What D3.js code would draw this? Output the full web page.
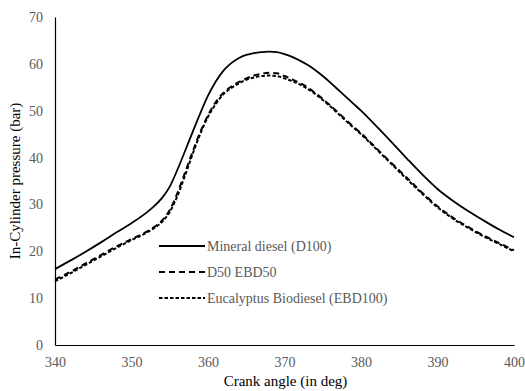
<!DOCTYPE html>
<html>
<head>
<meta charset="utf-8">
<script src="https://cdn.jsdelivr.net/npm/d3@7"></script>
</head>
<body style="margin:0">
<svg id="plot" width="525" height="391" style="font-family: 'Liberation Serif', serif;"></svg>
<script>
// Crank angle (deg) sample points
const angles = [340, 342, 344, 346, 348, 350, 352, 353, 354, 355, 356, 357, 358, 359,
  360, 361, 362, 363, 364, 365, 366, 367, 368, 369, 370, 371, 372, 373, 374, 375,
  376, 377, 378, 379, 380, 382, 384, 386, 388, 390, 392, 394, 396, 398, 400];

// In-cylinder pressure (bar)
const d100 = [16.2, 18.0, 19.9, 21.9, 24.0, 26.0, 28.3, 29.7, 31.4, 33.8, 37.4, 41.4, 45.5, 49.5,
  53.2, 56.2, 58.5, 60.1, 61.2, 61.9, 62.3, 62.5, 62.6, 62.5, 62.1, 61.5, 60.7, 59.8, 58.7, 57.4,
  56.0, 54.5, 53.0, 51.5, 50.0, 46.7, 43.3, 39.8, 36.4, 33.3, 30.8, 28.6, 26.6, 24.7, 23.0];

const d50ebd50 = [14.0, 15.6, 17.4, 19.2, 21.0, 22.6, 24.2, 25.2, 26.6, 28.8, 32.4, 36.8, 41.3, 45.5,
  49.0, 51.8, 53.8, 55.1, 56.1, 56.9, 57.5, 57.9, 58.1, 58.0, 57.4, 56.7, 55.9, 55.0, 53.8, 52.5,
  51.1, 49.6, 48.1, 46.6, 45.2, 42.0, 38.8, 35.7, 32.5, 29.6, 27.2, 25.2, 23.4, 21.8, 20.2];

const ebd100 = [13.6, 15.3, 17.1, 18.9, 20.7, 22.4, 24.0, 25.0, 26.3, 28.4, 31.8, 36.2, 40.8, 45.1,
  48.7, 51.4, 53.5, 54.8, 55.8, 56.6, 57.1, 57.4, 57.5, 57.4, 56.9, 56.3, 55.6, 54.7, 53.6, 52.3,
  50.9, 49.4, 47.9, 46.4, 45.0, 41.8, 38.6, 35.4, 32.3, 29.4, 27.0, 25.0, 23.2, 21.6, 20.0];

const seriesNames = ["Mineral diesel (D100)", "D50 EBD50", "Eucalyptus Biodiesel (EBD100)"];
const seriesValues = [d100, d50ebd50, ebd100];
const seriesDash = [null, "6,4", "3.5,2"];

const xTicks = [340, 350, 360, 370, 380, 390, 400];
const yTicks = [0, 10, 20, 30, 40, 50, 60, 70];

const margin = { top: 17, right: 11, bottom: 46, left: 55 };
const width = 525, height = 391;
const svg = d3.select("#plot");

const x = d3.scaleLinear().domain([340, 400]).range([margin.left, width - margin.right]);
const y = d3.scaleLinear().domain([0, 70]).range([height - margin.bottom, margin.top]);

// Axes: plain lines, gray labels, no tick marks
const xAxis = svg.append("g")
  .attr("transform", `translate(0,${y(0)})`)
  .call(d3.axisBottom(x).tickValues(xTicks).tickSize(0).tickPadding(12).tickFormat(d3.format("d")));
xAxis.attr("font-family", null).attr("font-size", 14);
xAxis.select(".domain").attr("stroke", "#000").attr("stroke-width", 1.2);
xAxis.selectAll("text").attr("fill", "#595959");

const yAxis = svg.append("g")
  .attr("transform", `translate(${x(340)},0)`)
  .call(d3.axisLeft(y).tickValues(yTicks).tickSize(0).tickPadding(12).tickFormat(d3.format("d")));
yAxis.attr("font-family", null).attr("font-size", 14);
yAxis.select(".domain").attr("stroke", "#000").attr("stroke-width", 1.2);
yAxis.selectAll("text").attr("fill", "#595959");

// Curves
const line = d3.line()
  .x((d, i) => x(angles[i]))
  .y(d => y(d))
  .curve(d3.curveMonotoneX);

seriesValues.forEach((vals, k) => {
  svg.append("path")
    .datum(vals)
    .attr("fill", "none")
    .attr("stroke", "#000")
    .attr("stroke-width", k === 0 ? 1.8 : 2)
    .attr("stroke-dasharray", seriesDash[k])
    .attr("d", line);
});

// Legend
const legend = svg.append("g").attr("transform", "translate(159,246)");
seriesNames.forEach((name, k) => {
  const g = legend.append("g").attr("transform", `translate(0,${k * 26})`);
  g.append("line")
    .attr("x1", 0).attr("x2", 46).attr("y1", 0).attr("y2", 0)
    .attr("stroke", "#000")
    .attr("stroke-width", k === 0 ? 1.8 : 2)
    .attr("stroke-dasharray", seriesDash[k]);
  g.append("text")
    .attr("x", 48).attr("y", 0).attr("dy", "0.35em")
    .attr("fill", "#595959")
    .attr("font-size", 14)
    .text(name);
});

// Axis titles
svg.append("text")
  .attr("x", (x(340) + x(400)) / 2 + 1)
  .attr("y", 386)
  .attr("text-anchor", "middle")
  .attr("fill", "#000")
  .attr("font-size", 15)
  .text("Crank angle (in deg)");

svg.append("text")
  .attr("transform", `translate(20,${(y(0) + y(70)) / 2}) rotate(-90)`)
  .attr("text-anchor", "middle")
  .attr("fill", "#000")
  .attr("font-size", 15)
  .text("In-Cylinder pressure (bar)");
</script>
</body>
</html>
